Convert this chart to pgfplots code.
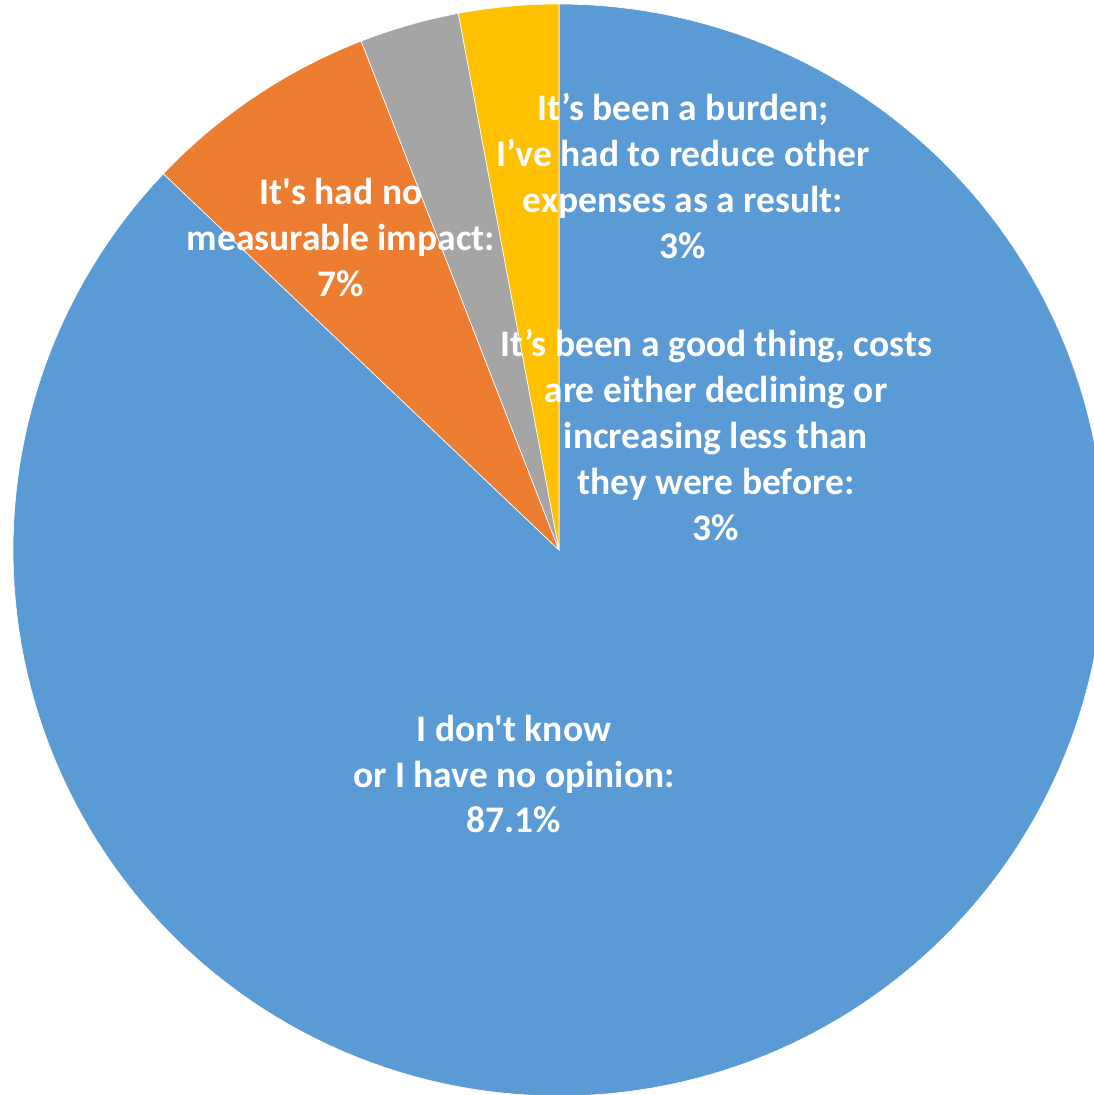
\documentclass[border=0pt]{standalone}
\usepackage{pgfplots}
\pgfplotsset{compat=1.18}
\usepackage{fontspec}
\setmainfont{Carlito}[Ligatures=TeXOff]
\definecolor{cblue}{HTML}{5B9BD5}
\definecolor{corange}{HTML}{ED7D31}
\definecolor{cgray}{HTML}{A5A5A5}
\definecolor{cyellow}{HTML}{FFC000}
% slice values (percent), clockwise from 12 o'clock
\def\vA{87.1}\def\vB{7}\def\vC{2.95}\def\vD{2.95}
\def\cx{559}\def\cy{545}\def\R{546}
\pgfmathsetmacro{\aA}{90}
\pgfmathsetmacro{\aB}{\aA-3.6*\vA}
\pgfmathsetmacro{\aC}{\aB-3.6*\vB}
\pgfmathsetmacro{\aD}{\aC-3.6*\vC}
\pgfmathsetmacro{\aE}{\aD-3.6*\vD}
\begin{document}
\begin{tikzpicture}
\begin{axis}[
  x=0.25pt, y=0.25pt,
  xmin=0, xmax=1094, ymin=0, ymax=1095,
  axis line style={draw=none},
  xtick=\empty, ytick=\empty,
  clip=true,
  every axis plot/.append style={draw=white, line width=0.15pt},
]
\addplot[fill=cblue, domain=\aB:\aA, samples=200, variable=\t]
  ({\cx+\R*cos(\t)}, {\cy+\R*sin(\t)}) -- (axis cs:\cx,\cy) -- cycle;
\addplot[fill=corange, domain=\aC:\aB, samples=40, variable=\t]
  ({\cx+\R*cos(\t)}, {\cy+\R*sin(\t)}) -- (axis cs:\cx,\cy) -- cycle;
\addplot[fill=cgray, domain=\aD:\aC, samples=30, variable=\t]
  ({\cx+\R*cos(\t)}, {\cy+\R*sin(\t)}) -- (axis cs:\cx,\cy) -- cycle;
\addplot[fill=cyellow, domain=\aE:\aD, samples=30, variable=\t]
  ({\cx+\R*cos(\t)}, {\cy+\R*sin(\t)}) -- (axis cs:\cx,\cy) -- cycle;

\begin{scope}[every node/.style={align=center, text=white, inner sep=0pt,
   font=\fontsize{9.375}{11.5}\selectfont\bfseries}]
\node at (axis cs:683,919) {It’s been a burden;\\I’ve had to reduce other\\expenses as a result:\\3\%};
\node at (axis cs:341,857) {It's had no\\measurable impact:\\7\%};
\node at (axis cs:716,660) {It’s been a good thing, costs\\are either declining or\\increasing less than\\they were before:\\3\%};
\node at (axis cs:514,321) {I don't know\\or I have no opinion:\\87.1\%};
\end{scope}
\end{axis}
\end{tikzpicture}
\end{document}
